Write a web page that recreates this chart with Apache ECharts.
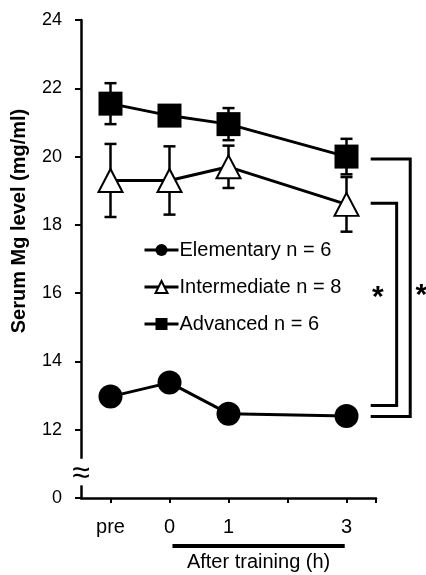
<!DOCTYPE html>
<html>
<head>
<meta charset="utf-8">
<script src="https://cdn.jsdelivr.net/npm/echarts@6/dist/echarts.min.js"></script>
<style>
  html, body { margin: 0; padding: 0; background: #fff; }
  #chart { width: 426px; height: 575px; }
</style>
</head>
<body>
<div id="chart"></div>
<script>
// time points: "pre" sits one step left of 0
const xLabels = ["pre", "0", "1", "3"];
const xPos = [-1, 0, 1, 3];

const elemMean = [12.97, 13.38, 12.47, 12.4];
const interMean = [19.3, 19.3, 19.7, 18.6];
const interErr = [1.07, 1.0, 0.62, 0.8];
const advMean = [21.55, 21.2, 20.95, 20.0];
const advErr = [0.6, 0.2, 0.47, 0.52];

const yTicks = [10, 12, 14, 16, 18, 20, 22, 24]; // 10 is drawn as "0" (broken axis)

const FONT = "Liberation Sans, Arial, sans-serif";

const chart = echarts.init(document.getElementById("chart"));

const pts = (ys) => xPos.map((x, i) => [x, ys[i]]);
const errRows = (ys, es) => xPos.map((x, i) => [x, ys[i] - es[i], ys[i] + es[i]]);

function renderErr(params, api) {
  const x = api.value(0);
  const top = api.coord([x, api.value(2)]);
  const bot = api.coord([x, api.value(1)]);
  const hw = 6;
  const st = { stroke: "#000", lineWidth: 2.5 };
  return {
    type: "group",
    children: [
      { type: "line", shape: { x1: top[0], y1: top[1], x2: bot[0], y2: bot[1] }, style: st },
      { type: "line", shape: { x1: top[0] - hw, y1: top[1], x2: top[0] + hw, y2: top[1] }, style: st },
      { type: "line", shape: { x1: bot[0] - hw, y1: bot[1], x2: bot[0] + hw, y2: bot[1] }, style: st },
    ],
  };
}

const options = {
  animation: false,
  grid: { left: 81, right: 50, top: 20, bottom: 77 },
  legend: {
    orient: "vertical",
    left: 143,
    top: 240,
    padding: 0,
    itemWidth: 34,
    itemHeight: 15,
    itemGap: 17,
    lineStyle: { width: 3 },
    data: ["Elementary n = 6", "Intermediate n = 8", "Advanced n = 6"],
    textStyle: { fontFamily: FONT, fontSize: 20, color: "#000", lineHeight: 20, padding: [0, 0, 0, -4] },
  },
  xAxis: {
    type: "value",
    min: -1.5,
    max: 3.5,
    splitLine: { show: false },
    axisLine: { show: true, onZero: false, lineStyle: { color: "#000", width: 2.5 } },
    axisTick: {
      show: true,
      length: 5,
      lineStyle: { color: "#000", width: 2 },
      customValues: [-1, 0, 1, 2, 3, 3.5],
    },
    axisLabel: {
      customValues: xPos,
      formatter: (v) => xLabels[xPos.indexOf(v)] ?? "",
      fontFamily: FONT,
      fontSize: 20,
      color: "#000",
      margin: 19,
    },
  },
  yAxis: {
    type: "value",
    min: 10,
    max: 24,
    interval: 2,
    splitLine: { show: false },
    axisLine: { show: true, onZero: false, lineStyle: { color: "#000", width: 2.5 } },
    axisTick: { show: true, length: 6, lineStyle: { color: "#000", width: 2 } },
    axisLabel: {
      formatter: (v) => (v === 10 ? "0" : yTicks.includes(v) ? String(v) : ""),
      fontFamily: FONT,
      fontSize: 18,
      color: "#000",
      margin: 19,
    },
  },
  series: [
    {
      type: "custom",
      renderItem: renderErr,
      data: errRows(interMean, interErr),
      z: 1,
      silent: true,
    },
    {
      type: "custom",
      renderItem: renderErr,
      data: errRows(advMean, advErr),
      z: 1,
      silent: true,
    },
    {
      name: "Elementary n = 6",
      type: "line",
      data: pts(elemMean),
      symbol: "circle",
      symbolSize: 24,
      lineStyle: { color: "#000", width: 3 },
      itemStyle: { color: "#000" },
      z: 3,
    },
    {
      name: "Intermediate n = 8",
      type: "line",
      data: pts(interMean),
      symbol: "triangle",
      symbolSize: [24, 23],
      lineStyle: { color: "#000", width: 3 },
      itemStyle: { color: "#fff", borderColor: "#000", borderWidth: 2 },
      z: 3,
    },
    {
      name: "Advanced n = 6",
      type: "line",
      data: pts(advMean),
      symbol: "rect",
      symbolSize: 24,
      lineStyle: { color: "#000", width: 3 },
      itemStyle: { color: "#000" },
      z: 3,
    },
  ],
};

chart.setOption(options);

// annotations: y title, axis break, "After training" bar, significance brackets
const px = (x, y) => chart.convertToPixel({ xAxisIndex: 0, yAxisIndex: 0 }, [x, y]);
const brkA = px(-1.5, 11.15), brkB = px(-1.5, 10.37);
const barA = px(0.05, 10), barB = px(2.97, 10);

function bracket(xStart, xVert, yTop, yBot) {
  const a = px(xStart, yTop), b = px(xVert, yTop), c = px(xVert, yBot), d = px(xStart, yBot);
  return {
    type: "polyline",
    shape: { points: [a, b, c, d] },
    style: { stroke: "#000", lineWidth: 3, fill: null },
  };
}
const star1 = px(3.53, 16.03), star2 = px(4.27, 16.1);

chart.setOption({
  graphic: [
    {
      type: "text", x: 19, y: 221, rotation: Math.PI / 2,
      style: { text: "Serum Mg level (mg/ml)", font: "bold 20px " + FONT, fill: "#000", align: "center", verticalAlign: "middle" },
    },
    { type: "rect", shape: { x: brkA[0] - 6, y: brkA[1], width: 12, height: brkB[1] - brkA[1] }, style: { fill: "#fff" }, z: 50 },
    {
      type: "text", x: brkA[0], y: (brkA[1] + brkB[1]) / 2 + 2, z: 51,
      style: { text: "\u2248", font: "32px " + FONT, fill: "#000", align: "center", verticalAlign: "middle" },
    },
    { type: "line", shape: { x1: barA[0], y1: barA[1] + 48, x2: barB[0], y2: barB[1] + 48 }, style: { stroke: "#000", lineWidth: 4 } },
    {
      type: "text", x: (barA[0] + barB[0]) / 2, y: barA[1] + 64,
      style: { text: "After training (h)", font: "20px " + FONT, fill: "#000", align: "center", verticalAlign: "middle" },
    },
    bracket(3.41, 4.08, advMean[3] - 0.07, 12.39),
    bracket(3.41, 3.85, interMean[3] + 0.03, 12.71),
    {
      type: "text", x: star1[0], y: star1[1] + 6,
      style: { text: "*", font: "bold 30px " + FONT, fill: "#000", align: "center", verticalAlign: "middle" },
    },
    {
      type: "text", x: star2[0], y: star2[1] + 6,
      style: { text: "*", font: "bold 30px " + FONT, fill: "#000", align: "center", verticalAlign: "middle" },
    },
  ],
});

window.addEventListener("resize", () => chart.resize());
</script>
</body>
</html>
